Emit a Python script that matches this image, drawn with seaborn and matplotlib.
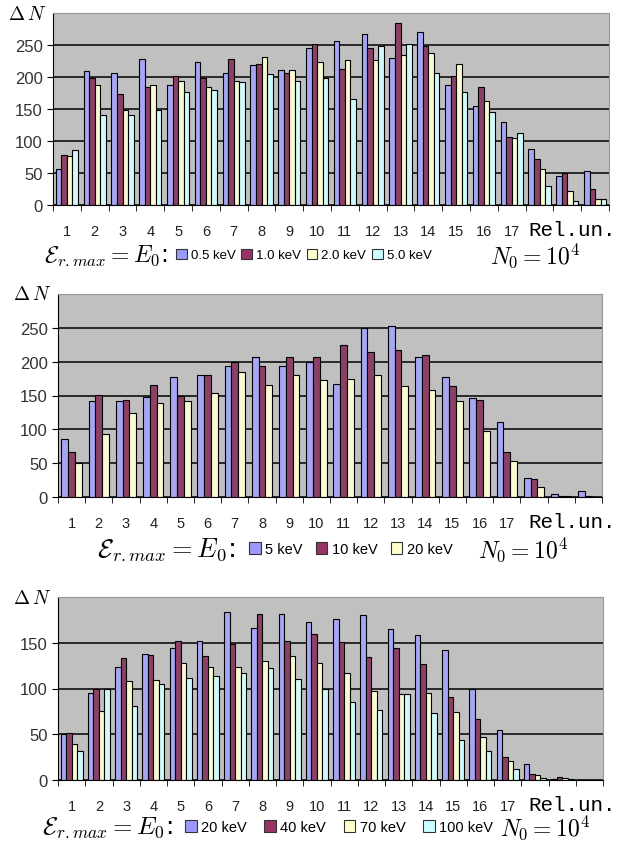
import numpy as np
import pandas as pd
import matplotlib
matplotlib.use("Agg")
import matplotlib.pyplot as plt
import matplotlib.transforms as mtransforms
from matplotlib.patches import Patch
import seaborn as sns

# ---- data ----
groups = list(range(1, 21))          # 20 bins, only 1..17 are labelled
tick_labels = [str(i) for i in range(1, 18)]

# panel 1: E0 = 0.5, 1.0, 2.0, 5.0 keV
p1_labels = ["0.5 keV", "1.0 keV", "2.0 keV", "5.0 keV"]
p1_a = [56, 209, 207, 228, 187, 224, 207, 218, 211, 245, 256, 267, 229, 270, 188, 155, 130, 88, 45, 53]
p1_b = [78, 198, 173, 185, 202, 198, 228, 221, 206, 251, 213, 245, 284, 249, 202, 185, 107, 72, 50, 25]
p1_c = [77, 188, 148, 188, 193, 184, 193, 232, 211, 224, 226, 226, 235, 238, 220, 162, 105, 56, 22, 10]
p1_d = [86, 141, 141, 148, 177, 179, 192, 205, 193, 198, 166, 249, 251, 207, 177, 146, 112, 29, 6, 9]

# panel 2: E0 = 5, 10, 20 keV
p2_labels = ["5 keV", "10 keV", "20 keV"]
p2_a = [86, 142, 142, 148, 178, 180, 193, 207, 193, 200, 167, 250, 252, 207, 178, 146, 111, 28, 5, 9]
p2_b = [66, 151, 144, 165, 150, 180, 200, 194, 207, 207, 225, 214, 217, 210, 164, 144, 66, 26, 2, 2]
p2_c = [50, 93, 124, 139, 142, 153, 184, 165, 180, 173, 174, 180, 164, 158, 142, 97, 53, 15, 1, 0]

# panel 3: E0 = 20, 40, 70, 100 keV
p3_labels = ["20 keV", "40 keV", "70 keV", "100 keV"]
p3_a = [50, 95, 123, 138, 144, 152, 184, 166, 181, 173, 176, 180, 165, 158, 142, 99, 55, 17, 1, 0]
p3_b = [51, 99, 133, 137, 152, 135, 149, 181, 152, 160, 151, 134, 144, 127, 91, 67, 25, 7, 3, 0]
p3_c = [39, 75, 108, 109, 128, 123, 123, 130, 136, 128, 117, 97, 94, 95, 74, 47, 21, 5, 2, 0]
p3_d = [32, 100, 81, 105, 112, 114, 117, 122, 110, 100, 85, 76, 94, 73, 44, 32, 12, 2, 1, 0]

colors = ["#9999FF", "#993366", "#FFFFCC", "#CCFFFF"]

plt.rcParams['mathtext.fontset'] = 'cm'
tick_font = ['Liberation Sans Narrow', 'Liberation Sans', 'DejaVu Sans']

fig = plt.figure(figsize=(6.19, 8.45), dpi=100)
W, H = 619, 845


def px_axes(left, top, right, bottom):
    return fig.add_axes([left / W, 1 - bottom / H, (right - left) / W, (bottom - top) / H])


def panel(ax, series, labels, ymax, yticks, width, leg_y, eps_x, eps_fs,
          leg_x, leg_fs, leg_cs, n0_x):
    n = len(series)
    df = pd.DataFrame({
        "group": np.tile(groups, n),
        "value": np.concatenate(series),
        "series": np.repeat(labels, len(groups)),
    })
    sns.barplot(data=df, x="group", y="value", hue="series", hue_order=labels,
                palette=colors[:n], edgecolor="black", linewidth=0.8,
                width=width, ax=ax, legend=False)
    ax.set_facecolor("#C0C0C0")
    ax.set_xlim(-0.5, len(groups) - 0.5)
    ax.set_ylim(0, ymax)
    ax.set_yticks(yticks)
    ax.set_yticklabels([str(v) for v in yticks], family=tick_font, fontsize=12, color="#333333")
    ax.yaxis.grid(True, color="black", linewidth=1.1)
    ax.set_axisbelow(True)
    ax.set_xticks(range(17))
    ax.set_xticklabels(tick_labels, family=tick_font, fontsize=10.5, color="#222222")
    ax.set_xticks(np.arange(-0.5, len(groups)), minor=True)
    ax.tick_params(axis="x", which="major", length=0, pad=14)
    ax.tick_params(axis="x", which="minor", length=4, direction="out", color="black")
    ax.tick_params(axis="y", length=4, direction="out", color="black")
    ax.set_xlabel("")
    ax.set_ylabel("")
    for s in ["top", "right"]:
        ax.spines[s].set_color("#999999")
    for s in ["left", "bottom"]:
        ax.spines[s].set_color("black")
    ax.text(-0.012, 1.0, r"$\Delta\,N$", transform=ax.transAxes, ha="right", va="center",
            fontsize=14)
    # "Rel.un." shares the baseline of the tick labels, right aligned near the figure edge
    trans = mtransforms.blended_transform_factory(fig.transFigure, ax.transAxes)
    trans = mtransforms.offset_copy(trans, fig=fig, y=-30, units="dots")
    ax.text(616 / W, 0, "Rel.un.", transform=trans, ha="right", va="baseline",
            family=['Liberation Mono', 'DejaVu Sans Mono'], fontsize=15)

    # legend row under the panel
    fig.text(eps_x / W, 1 - leg_y / H, r"$\mathcal{E}_{\mathit{r.max}}=E_0$:",
             ha="left", va="center", fontsize=eps_fs)
    handles = [Patch(facecolor=colors[i], edgecolor="#333333", linewidth=0.8) for i in range(n)]
    fig.legend(handles, labels, ncol=n, loc="center left",
               bbox_to_anchor=(leg_x / W, 1 - leg_y / H), frameon=False,
               handlelength=0.8, handleheight=0.8, handletextpad=0.3,
               columnspacing=leg_cs, borderaxespad=0, borderpad=0,
               prop={"family": tick_font, "size": leg_fs})
    fig.text(n0_x / W, 1 - leg_y / H, r"$N_0=10^4$", ha="left", va="center", fontsize=17)


ax1 = px_axes(53, 14, 609, 206)
panel(ax1, [p1_a, p1_b, p1_c, p1_d], p1_labels, 300, [0, 50, 100, 150, 200, 250], 0.8,
      256, 44, 17, 176, 9.5, 0.45, 490)

ax2 = px_axes(58, 295, 602, 498)
panel(ax2, [p2_a, p2_b, p2_c], p2_labels, 300, [0, 50, 100, 150, 200, 250], 0.75,
      550, 97, 19, 249, 10.5, 0.9, 478)

ax3 = px_axes(58, 598, 603, 781)
panel(ax3, [p3_a, p3_b, p3_c, p3_d], p3_labels, 200, [0, 50, 100, 150], 0.8,
      828, 42, 18, 185, 10.5, 1.2, 500)

fig.savefig("out.png", dpi=100)
